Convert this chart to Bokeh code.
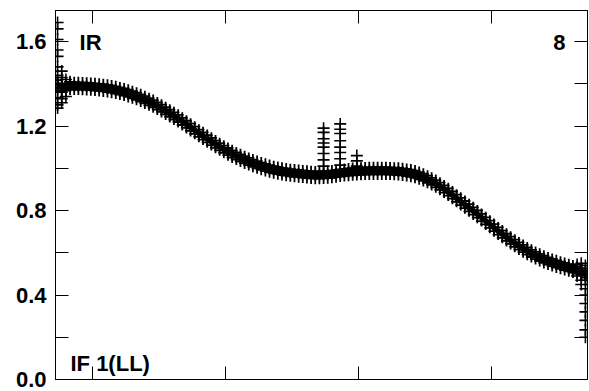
from bokeh.plotting import figure
from bokeh.models import Range1d, LinearAxis, FixedTicker, Label
from bokeh.embed import file_html
from bokeh.resources import INLINE

# ---- data ----
channels = list(range(1, 129))
amp_mid = [
    1.400, 1.380, 1.385, 1.390, 1.390, 1.390, 1.389, 1.388, 1.387, 1.385,
    1.383, 1.381, 1.378, 1.375, 1.371, 1.366, 1.361, 1.355, 1.348, 1.341,
    1.333, 1.324, 1.315, 1.306, 1.295, 1.284, 1.272, 1.260, 1.248, 1.236,
    1.222, 1.208, 1.194, 1.180, 1.166, 1.153, 1.140, 1.127, 1.114, 1.102,
    1.090, 1.079, 1.068, 1.058, 1.049, 1.040, 1.032, 1.024, 1.017, 1.010,
    1.004, 0.998, 0.993, 0.989, 0.985, 0.982, 0.979, 0.977, 0.975, 0.973,
    0.971, 0.969, 0.968, 0.968, 0.969, 0.970, 0.972, 0.975, 0.978, 0.980,
    0.982, 0.984, 0.985, 0.986, 0.987, 0.988, 0.988, 0.988, 0.988, 0.988,
    0.987, 0.986, 0.985, 0.983, 0.980, 0.977, 0.972, 0.965, 0.957, 0.948,
    0.938, 0.927, 0.915, 0.902, 0.888, 0.873, 0.858, 0.843, 0.828, 0.813,
    0.798, 0.783, 0.767, 0.751, 0.735, 0.719, 0.703, 0.688, 0.673, 0.659,
    0.645, 0.632, 0.620, 0.608, 0.597, 0.587, 0.578, 0.569, 0.561, 0.554,
    0.547, 0.541, 0.535, 0.529, 0.523, 0.517, 0.510, 0.500,
]

out_chan = [1] * 12 + [2] * 6 + [3, 3, 4] + [65] * 8 + [69] * 8 + [73] * 3 \
    + [126, 126] + [127] * 3 + [128] * 9
out_amp = [
    1.69, 1.66, 1.61, 1.56, 1.53, 1.48, 1.44, 1.40, 1.37, 1.335, 1.30, 1.285,
    1.46, 1.43, 1.40, 1.36, 1.33, 1.31,
    1.42, 1.34, 1.41,
    1.19, 1.17, 1.14, 1.12, 1.10, 1.07, 1.04, 1.01,
    1.21, 1.185, 1.165, 1.13, 1.10, 1.075, 1.045, 1.015,
    1.06, 1.035, 1.01,
    0.545, 0.49,
    0.55, 0.47, 0.45,
    0.54, 0.47, 0.43, 0.40, 0.36, 0.32, 0.28, 0.235, 0.20,
]

y_ticks = [0.0, 0.2, 0.4, 0.6, 0.8, 1.0, 1.2, 1.4, 1.6]
y_labels = ["0.0", "", "0.4", "", "0.8", "", "1.2", "", "1.6"]
x_ticks = [9.5, 41.5, 73.5, 105.5]

# ---- style ----
BAND_HALF = 0.017
FONT = "Liberation Sans"

p = figure(width=589, height=391, output_backend="svg", toolbar_location=None,
           x_range=Range1d(0.5, 128.5), y_range=Range1d(0.0, 1.747),
           min_border_left=55, min_border_right=2, min_border_top=10,
           min_border_bottom=12, x_axis_location=None, y_axis_location=None)
p.grid.visible = False
p.outline_line_color = "black"
p.background_fill_color = "white"
p.border_fill_color = "white"

def style_axis(ax, ticks, overrides, show_labels):
    ax.ticker = FixedTicker(ticks=ticks)
    ax.major_label_overrides = overrides
    ax.major_tick_in = 13
    ax.major_tick_out = 0
    ax.minor_tick_in = 0
    ax.minor_tick_out = 0
    ax.major_tick_line_color = "black"
    ax.axis_line_color = "black"
    ax.major_label_text_font = FONT
    ax.major_label_text_font_style = "bold"
    ax.major_label_text_font_size = "22px" if show_labels else "1px"
    ax.major_label_text_color = "black"
    ax.major_label_standoff = 9 if show_labels else 0

yl = LinearAxis()
style_axis(yl, y_ticks, {t: l for t, l in zip(y_ticks, y_labels)}, True)
p.add_layout(yl, "left")
yr = LinearAxis()
style_axis(yr, y_ticks, {t: "" for t in y_ticks}, False)
p.add_layout(yr, "right")
xb = LinearAxis()
style_axis(xb, x_ticks, {t: "" for t in x_ticks}, False)
p.add_layout(xb, "below")
xt = LinearAxis()
style_axis(xt, x_ticks, {t: "" for t in x_ticks}, False)
p.add_layout(xt, "above")

lo = [v - BAND_HALF for v in amp_mid]
hi = [v + BAND_HALF for v in amp_mid]

p.varea(x=channels, y1=lo, y2=hi, fill_color="black")
for ys in (lo, amp_mid, hi):
    p.scatter(channels, ys, marker="cross", size=11, line_color="black",
              line_width=1.8)
p.scatter(out_chan, out_amp, marker="cross", size=12, line_color="black",
          line_width=1.6)

for txt, x, y, align in (("IR", 6.3, 1.595, "left"), ("8", 123.2, 1.595, "right"),
                         ("IF 1(LL)", 4.1, 0.076, "left")):
    p.add_layout(Label(x=x, y=y, text=txt, text_font=FONT, text_font_style="bold",
                       text_font_size="22px", text_color="black", text_align=align,
                       text_baseline="alphabetic"))

open("out.html", "w").write(file_html(p, INLINE))
